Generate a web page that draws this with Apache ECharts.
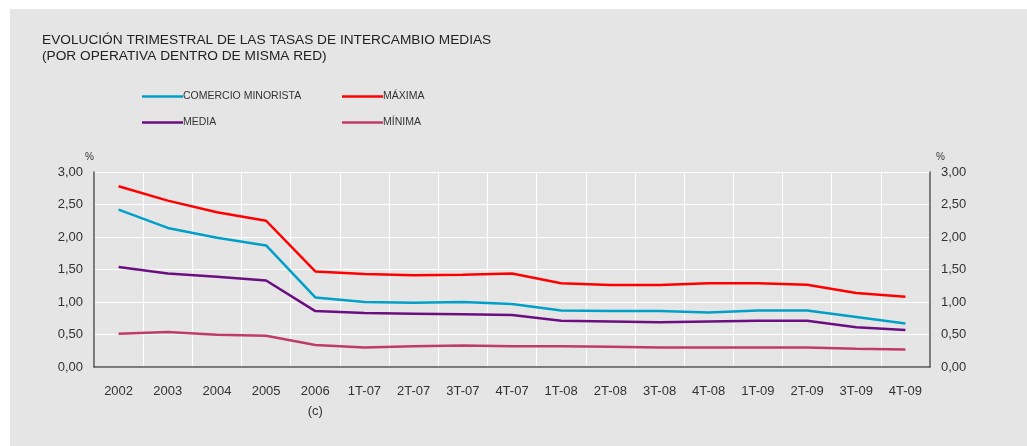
<!DOCTYPE html>
<html>
<head>
<meta charset="utf-8">
<script src="https://cdn.jsdelivr.net/npm/echarts@6/dist/echarts.min.js"></script>
<style>
  html, body { margin: 0; padding: 0; background: #fff; }
  #main { width: 1027px; height: 446px; }
</style>
</head>
<body>
<div id="main"></div>
<script>
// categorias del eje x
var categorias = ['2002', '2003', '2004', '2005', '2006', '1T-07', '2T-07', '3T-07', '4T-07',
  '1T-08', '2T-08', '3T-08', '4T-08', '1T-09', '2T-09', '3T-09', '4T-09'];

// tasas (%)
var comercioMinorista = [2.42, 2.14, 1.99, 1.87, 1.07, 1.00, 0.99, 1.00, 0.97, 0.87, 0.86, 0.86, 0.84, 0.87, 0.87, 0.77, 0.67];
var maxima = [2.78, 2.56, 2.38, 2.25, 1.47, 1.43, 1.41, 1.42, 1.44, 1.29, 1.26, 1.26, 1.29, 1.29, 1.265, 1.14, 1.08];
var media = [1.54, 1.44, 1.39, 1.33, 0.86, 0.83, 0.82, 0.81, 0.80, 0.71, 0.70, 0.69, 0.70, 0.71, 0.71, 0.61, 0.57];
var minima = [0.51, 0.54, 0.495, 0.48, 0.34, 0.30, 0.32, 0.33, 0.32, 0.32, 0.31, 0.30, 0.30, 0.30, 0.30, 0.28, 0.27];

var chart = echarts.init(document.getElementById('main'));
var fuente = 'Liberation Sans';

function fmt(v) {
  return v.toFixed(2).replace('.', ',');
}

var option = {
  backgroundColor: '#ffffff',
  animation: false,
  textStyle: { fontFamily: fuente },
  graphic: [
    {
      type: 'rect',
      z: -10,
      shape: { x: 10, y: 9, width: 1017, height: 437 },
      style: { fill: '#e5e5e5' }
    },
    {
      type: 'text',
      left: 42,
      top: 32,
      style: {
        text: 'EVOLUCIÓN TRIMESTRAL DE LAS TASAS DE INTERCAMBIO MEDIAS\n(POR OPERATIVA DENTRO DE MISMA RED)',
        font: '13.7px "Liberation Sans"',
        fill: '#222',
        lineHeight: 16
      }
    }
  ],
  legend: [
    {
      left: 137,
      top: 86,
      orient: 'vertical',
      icon: 'rect',
      itemWidth: 41,
      itemHeight: 2.5,
      itemGap: 15,
      data: ['COMERCIO MINORISTA', 'MEDIA'],
      textStyle: { fontSize: 10.5, color: '#333', padding: [0, 0, 0, -5] }
    },
    {
      left: 337,
      top: 86,
      orient: 'vertical',
      icon: 'rect',
      itemWidth: 41,
      itemHeight: 2.5,
      itemGap: 15,
      data: ['MÁXIMA', 'MÍNIMA'],
      textStyle: { fontSize: 10.5, color: '#333', padding: [0, 0, 0, -5] }
    }
  ],
  grid: { left: 94, right: 97, top: 172, bottom: 79 },
  xAxis: {
    type: 'category',
    data: categorias,
    boundaryGap: true,
    axisLine: { lineStyle: { color: '#555', width: 1.5 } },
    axisTick: { show: false },
    splitLine: { show: true, lineStyle: { color: '#ffffff', width: 1 } },
    axisLabel: {
      color: '#333',
      fontSize: 13,
      margin: 14,
      lineHeight: 20,
      interval: 0,
      formatter: function (v) { return v === '2006' ? '2006\n(c)' : v; }
    }
  },
  yAxis: [
    {
      type: 'value',
      min: 0,
      max: 3,
      interval: 0.5,
      name: '%',
      nameGap: 10,
      nameTextStyle: { color: '#333', fontSize: 10, align: 'right', padding: [0, 0, 0, 0] },
      axisLine: { show: true, lineStyle: { color: '#555', width: 1.5 } },
      axisTick: { show: false },
      splitLine: { lineStyle: { color: '#ffffff', width: 1 } },
      axisLabel: { color: '#333', fontSize: 13, margin: 11, formatter: fmt }
    },
    {
      type: 'value',
      min: 0,
      max: 3,
      interval: 0.5,
      name: '%',
      nameGap: 10,
      nameTextStyle: { color: '#333', fontSize: 10, align: 'left', padding: [0, 0, 0, 6] },
      axisLine: { show: true, lineStyle: { color: '#555', width: 1.5 } },
      axisTick: { show: false },
      splitLine: { show: false },
      axisLabel: { color: '#333', fontSize: 13, margin: 11, formatter: fmt }
    }
  ],
  series: [
    {
      name: 'COMERCIO MINORISTA',
      type: 'line',
      data: comercioMinorista,
      symbol: 'none',
      lineStyle: { color: '#00a0c8', width: 2.5 },
      itemStyle: { color: '#00a0c8' }
    },
    {
      name: 'MÁXIMA',
      type: 'line',
      data: maxima,
      symbol: 'none',
      lineStyle: { color: '#ff0000', width: 2.5 },
      itemStyle: { color: '#ff0000' }
    },
    {
      name: 'MEDIA',
      type: 'line',
      data: media,
      symbol: 'none',
      lineStyle: { color: '#6b0f80', width: 2.5 },
      itemStyle: { color: '#6b0f80' }
    },
    {
      name: 'MÍNIMA',
      type: 'line',
      data: minima,
      symbol: 'none',
      lineStyle: { color: '#c03c68', width: 2.5 },
      itemStyle: { color: '#c03c68' }
    }
  ]
};

chart.setOption(option);
</script>
</body>
</html>
